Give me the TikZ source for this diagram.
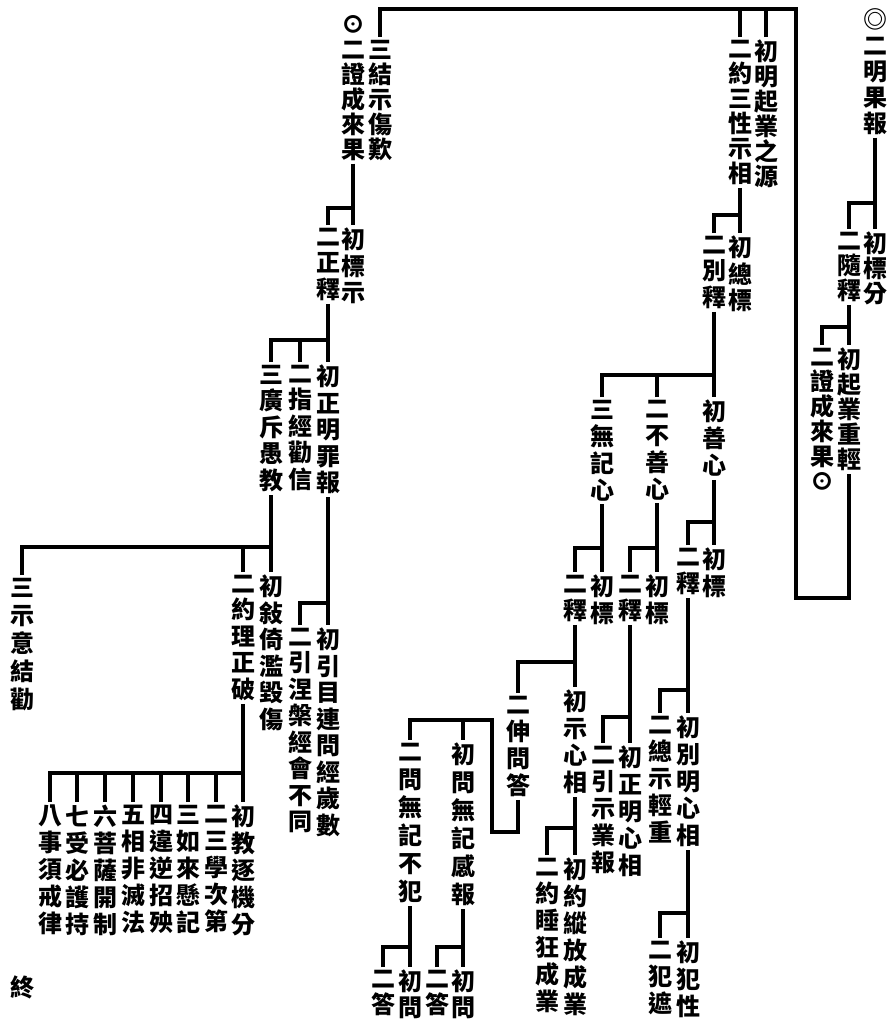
\documentclass[tikz,border=0pt]{standalone}
\usepackage{fontspec}
\newfontfamily\cjk{Noto Sans CJK TC}
\usetikzlibrary{positioning}
\newcommand\colstrut{\rule{0pt}{21pt}}

\begin{document}
\begin{tikzpicture}[x=1pt, y=-1pt,
        vcol/.style={font=\cjk\bfseries\fontsize{24}{#1}\selectfont, align=center, inner sep=0pt, inner ysep=3pt, anchor=north, yshift=15pt, execute at begin node=\colstrut},
        vcol/.default=26.5,
        link/.style={line width=3.4pt},
    ]
        \useasboundingbox[fill=white] (0,0) rectangle (892,1029);

        % Right column: result of karma
        \node[vcol=26] (mgb) at (875,20) {◎\\二\\明\\果\\報};
        \node[vcol=25] (bf) at (875,244) {初\\標\\分};
        \node[vcol=25] (ssh) at (849,244) {二\\隨\\釋};
        \node[vcol=25] (qz) at (849,360) {初\\起\\業\\重\\輕};
        \node[vcol=25] (zc) at (822,360) {二\\證\\成\\來\\果\\⊙};

        % Top row
        \node[vcol=25] (zcl) at (353,27) {⊙\\二\\證\\成\\來\\果};
        \node[vcol=25] (sjs) at (380,52) {三\\結\\示\\傷\\歎};
        \node[vcol=25] (cmq) at (766,52) {初\\明\\起\\業\\之\\源};
        \node[vcol=25] (eyx) at (740,52) {二\\約\\三\\性\\示\\相};

        % Left branch
        \node[vcol] (bs) at (353,240) {初\\標\\示};
        \node[vcol] (zs) at (328,240) {二\\正\\釋};
        \node[vcol] (zmzb) at (328,377) {初\\正\\明\\罪\\報};
        \node[vcol] (zjqx) at (300,377) {二\\指\\經\\勸\\信};
        \node[vcol] (gcyj) at (271,377) {三\\廣\\斥\\愚\\教};
        \node[vcol] (xy) at (271,587) {初\\敍\\倚\\濫\\毀\\傷};
        \node[vcol] (ylzp) at (243,587) {二\\約\\理\\正\\破};
        \node[vcol=28] (syjq) at (22,590) {三\\示\\意\\結\\勸};
        \node[vcol] (ymlw) at (328,640) {初\\引\\目\\連\\問\\經\\歲\\數};
        \node[vcol] (ynp) at (300,640) {二\\引\\涅\\槃\\經\\會\\不\\同};

        % Eight items
        \node[vcol=27] (e1) at (243,817) {初\\教\\逐\\機\\分};
        \node[vcol=27] (e2) at (216,817) {二\\三\\學\\次\\第};
        \node[vcol=27] (e3) at (188,817) {三\\如\\來\\懸\\記};
        \node[vcol=27] (e4) at (161,817) {四\\違\\逆\\招\\殃};
        \node[vcol=27] (e5) at (133,817) {五\\相\\非\\滅\\法};
        \node[vcol=27] (e6) at (105,817) {六\\菩\\薩\\開\\制};
        \node[vcol=27] (e7) at (77,817) {七\\受\\必\\護\\持};
        \node[vcol=27] (e8) at (50,817) {八\\事\\須\\戒\\律};
        \node[vcol] (end) at (22,987) {終};

        % Middle branch: three natures
        \node[vcol] (zb) at (740,248) {初\\總\\標};
        \node[vcol] (bsh) at (714,248) {二\\別\\釋};
        \node[vcol=27] (sx) at (714,412) {初\\善\\心};
        \node[vcol=27] (bsx) at (657,412) {二\\不\\善\\心};
        \node[vcol=27] (wjx) at (602,412) {三\\無\\記\\心};

        \node[vcol=27] (sxb) at (714,560) {初\\標};
        \node[vcol=27] (sxs) at (688,560) {二\\釋};
        \node[vcol=27] (bsxb) at (657,587) {初\\標};
        \node[vcol=27] (bsxs) at (630,587) {二\\釋};
        \node[vcol=27] (wjxb) at (602,587) {初\\標};
        \node[vcol=27] (wjxs) at (575,587) {二\\釋};

        \node[vcol=27] (bmx) at (688,728) {初\\別\\明\\心\\相};
        \node[vcol=27] (zsq) at (660,728) {二\\總\\示\\輕\\重};
        \node[vcol=27] (zmx) at (630,758) {初\\正\\明\\心\\相};
        \node[vcol=27] (ysy) at (603,758) {二\\引\\示\\業\\報};
        \node[vcol=27] (sxx) at (575,702) {初\\示\\心\\相};
        \node[vcol=27] (swd) at (518,708) {二\\伸\\問\\答};

        \node[vcol=27] (yzf) at (575,870) {初\\約\\縱\\放\\成\\業};
        \node[vcol=27] (ysk) at (547,870) {二\\約\\睡\\狂\\成\\業};
        \node[vcol=27] (fx) at (688,953) {初\\犯\\性};
        \node[vcol=27] (fz) at (660,953) {二\\犯\\遮};

        \node[vcol=28] (wgb) at (463,755) {初\\問\\無\\記\\感\\報};
        \node[vcol=28] (wbf) at (410,755) {二\\問\\無\\記\\不\\犯};
        \node[vcol=26] (gw1) at (463,982) {初\\問};
        \node[vcol=26] (gd1) at (437,982) {二\\答};
        \node[vcol=26] (gw2) at (410,982) {初\\問};
        \node[vcol=26] (gd2) at (383,982) {二\\答};

        % Junctions
        \coordinate (j1) at (875,203);
        \coordinate (j2) at (849,327);
        \coordinate (k1) at (796,598);
        \coordinate (k2) at (796,9);
        \coordinate (j3) at (353,208);
        \coordinate (j4) at (328,340);
        \coordinate (j5) at (271,547);
        \coordinate (j6) at (328,603);
        \coordinate (j7) at (243,773);
        \coordinate (j8) at (740,215);
        \coordinate (j9) at (714,375);
        \coordinate (j10) at (714,522);
        \coordinate (j11) at (657,548);
        \coordinate (j12) at (602,548);
        \coordinate (j13) at (688,690);
        \coordinate (j14) at (630,717);
        \coordinate (j15) at (575,662);
        \coordinate (j16) at (575,828);
        \coordinate (j17) at (688,913);
        \coordinate (q1) at (492,832);
        \coordinate (q2) at (492,720);
        \coordinate (j18) at (463,947);
        \coordinate (j19) at (410,947);

        % Connectors
        \draw[link] (mgb.south) -- (bf.north);
        \draw[link] (ssh.north) |- (j1);
        \draw[link] (ssh.south) -- (qz.north);
        \draw[link] (zc.north) |- (j2);
        \draw[link] (qz.south) |- (k1) -- (k2) -| (sjs.north);
        \draw[link] (cmq.north) -- (cmq.north |- k2);
        \draw[link] (eyx.north) -- (eyx.north |- k2);

        \draw[link] (zcl.south) -- (bs.north);
        \draw[link] (zs.north) |- (j3);
        \draw[link] (zs.south) -- (zmzb.north);
        \draw[link] (gcyj.north) |- (j4);
        \draw[link] (zjqx.north) -- (zjqx.north |- j4);
        \draw[link] (gcyj.south) -- (xy.north);
        \draw[link] (syjq.north) |- (j5);
        \draw[link] (ylzp.north) -- (ylzp.north |- j5);
        \draw[link] (zmzb.south) -- (ymlw.north);
        \draw[link] (ynp.north) |- (j6);
        \draw[link] (ylzp.south) -- (e1.north);
        \draw[link] (e8.north) |- (j7);
        \draw[link] (e2.north) -- (e2.north |- j7);
        \draw[link] (e3.north) -- (e3.north |- j7);
        \draw[link] (e4.north) -- (e4.north |- j7);
        \draw[link] (e5.north) -- (e5.north |- j7);
        \draw[link] (e6.north) -- (e6.north |- j7);
        \draw[link] (e7.north) -- (e7.north |- j7);

        \draw[link] (eyx.south) -- (zb.north);
        \draw[link] (bsh.north) |- (j8);
        \draw[link] (bsh.south) -- (sx.north);
        \draw[link] (wjx.north) |- (j9);
        \draw[link] (bsx.north) -- (bsx.north |- j9);
        \draw[link] (sx.south) -- (sxb.north);
        \draw[link] (sxs.north) |- (j10);
        \draw[link] (bsx.south) -- (bsxb.north);
        \draw[link] (bsxs.north) |- (j11);
        \draw[link] (wjx.south) -- (wjxb.north);
        \draw[link] (wjxs.north) |- (j12);
        \draw[link] (sxs.south) -- (bmx.north);
        \draw[link] (zsq.north) |- (j13);
        \draw[link] (bsxs.south) -- (zmx.north);
        \draw[link] (ysy.north) |- (j14);
        \draw[link] (wjxs.south) -- (sxx.north);
        \draw[link] (swd.north) |- (j15);
        \draw[link] (sxx.south) -- (yzf.north);
        \draw[link] (ysk.north) |- (j16);
        \draw[link] (bmx.south) -- (fx.north);
        \draw[link] (fz.north) |- (j17);

        % Question and answer bracket
        \draw[link] (swd.south) |- (q1) -- (q2) -| (wbf.north);
        \draw[link] (wgb.north) -- (wgb.north |- q2);
        \draw[link] (wgb.south) -- (gw1.north);
        \draw[link] (gd1.north) |- (j18);
        \draw[link] (wbf.south) -- (gw2.north);
        \draw[link] (gd2.north) |- (j19);
    \end{tikzpicture}
\end{document}
